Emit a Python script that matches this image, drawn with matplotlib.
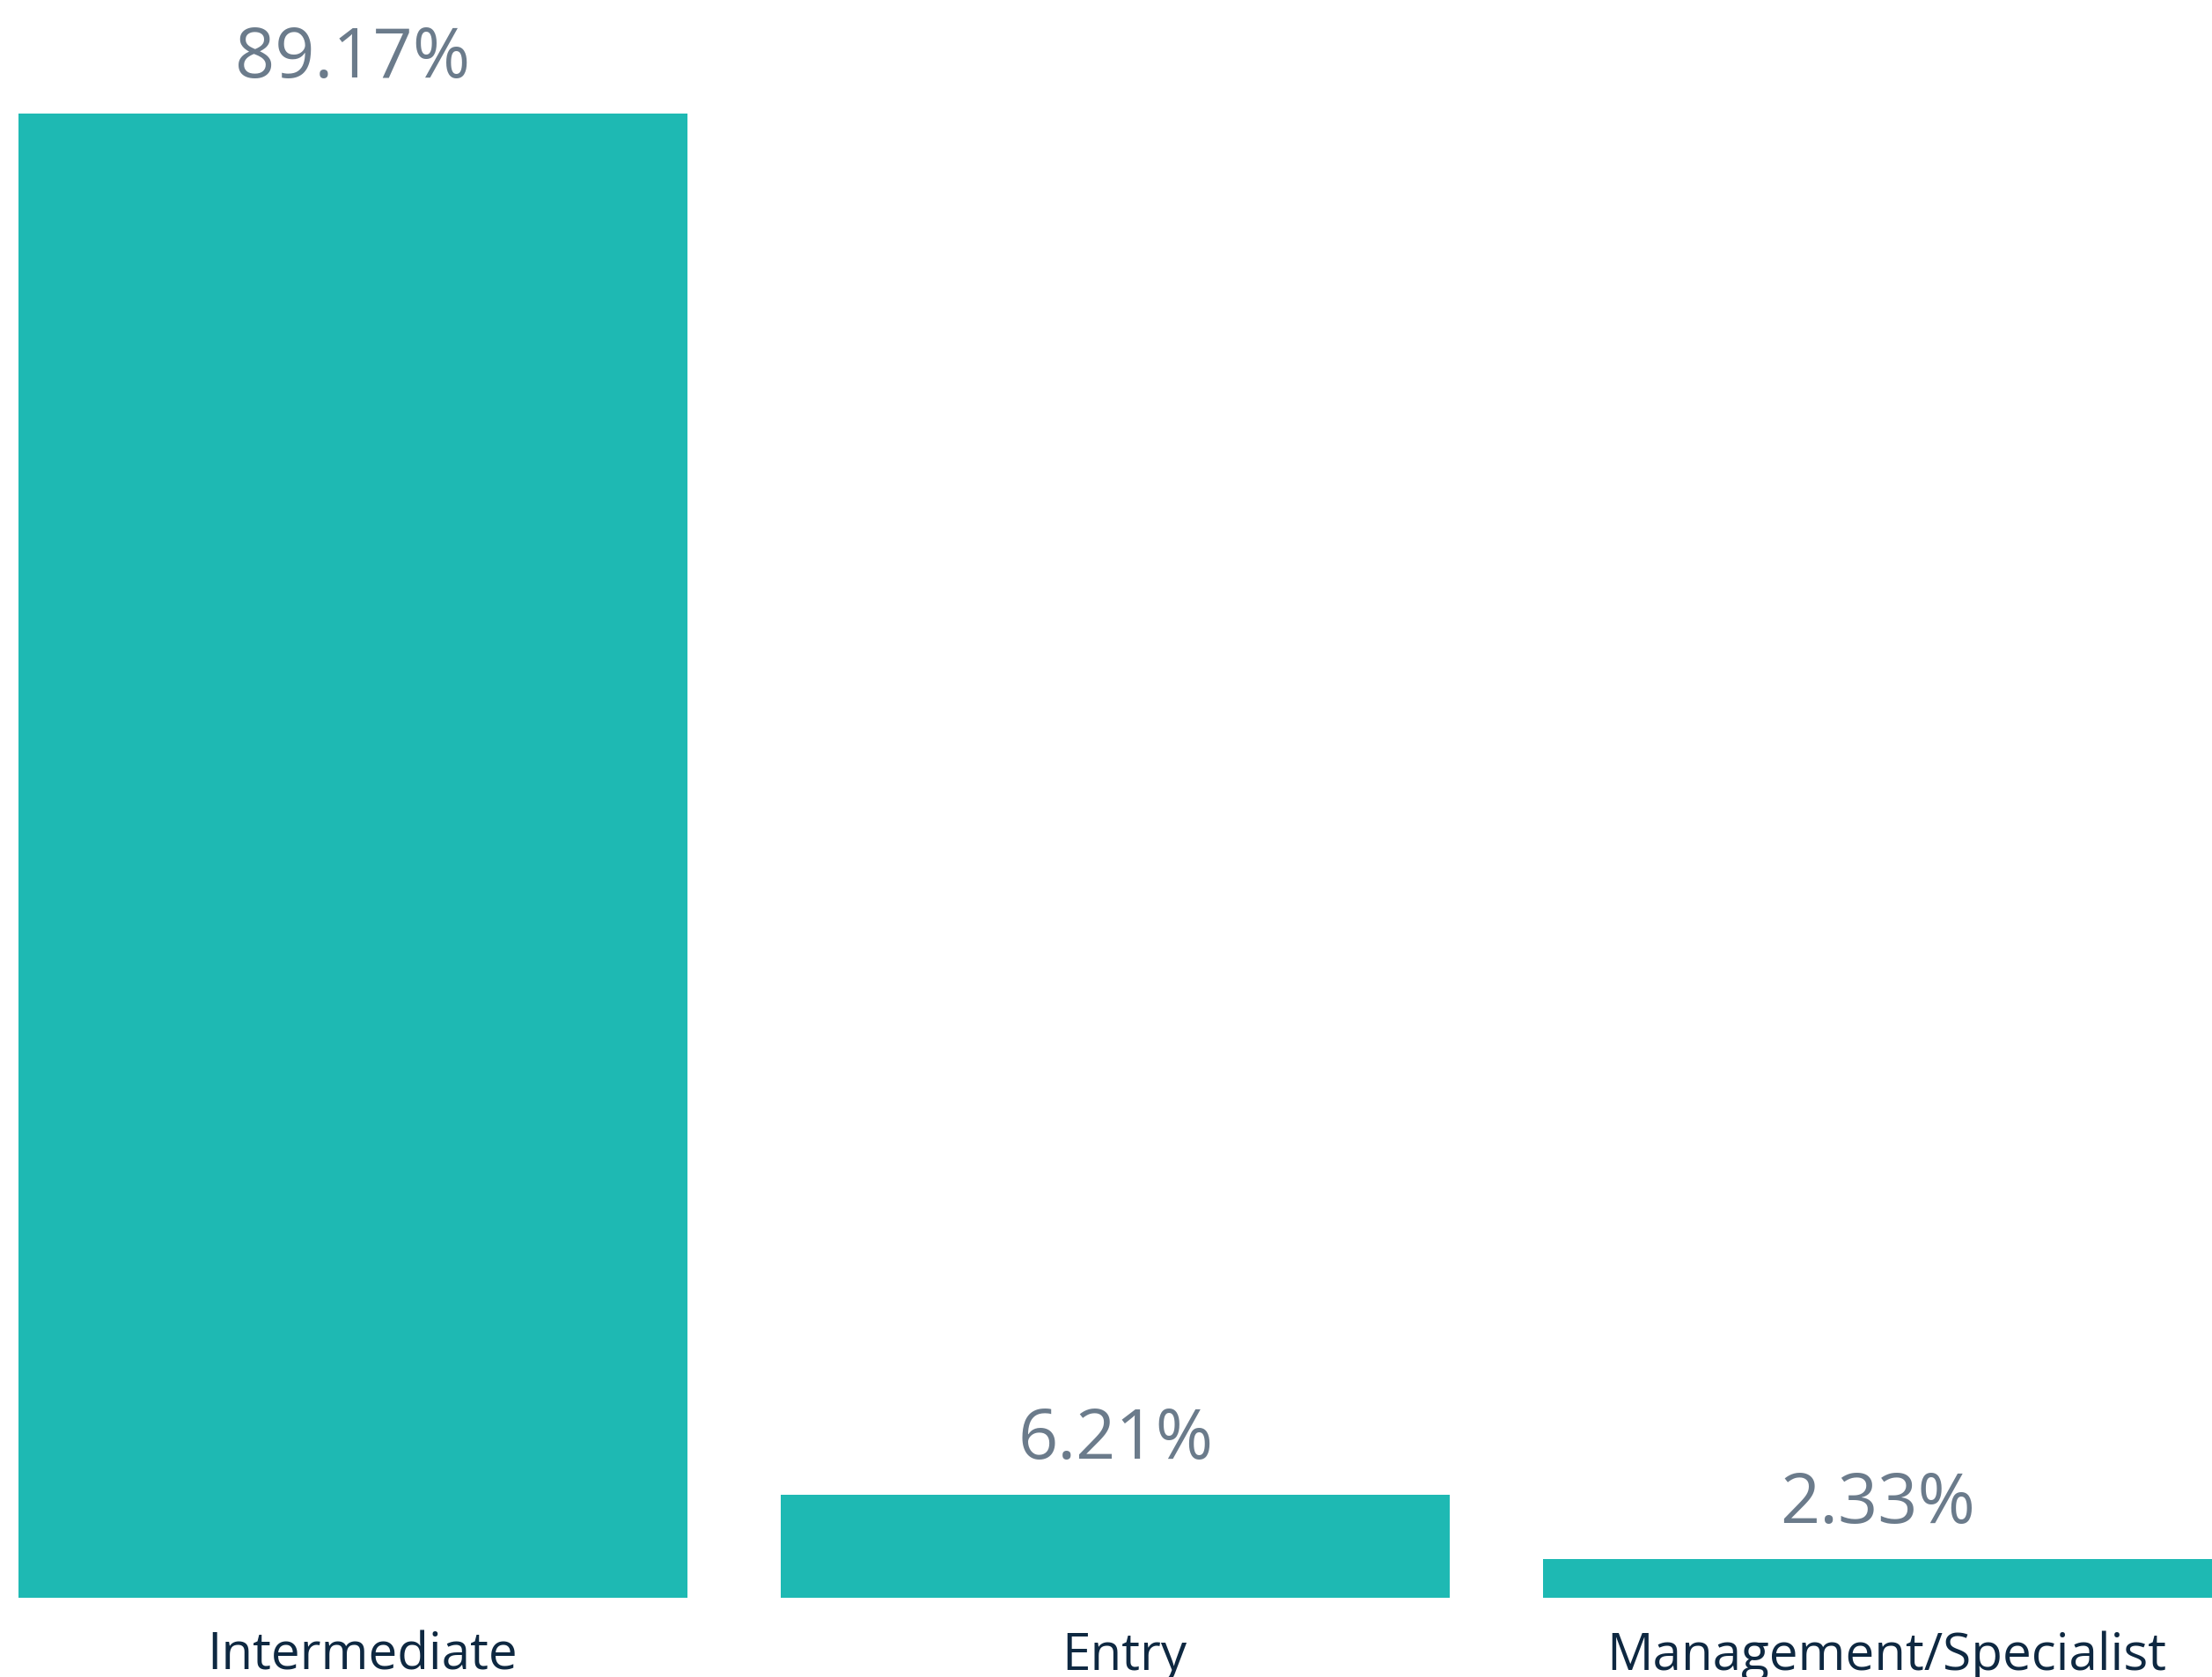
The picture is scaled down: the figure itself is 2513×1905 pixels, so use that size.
import numpy as np
import matplotlib
matplotlib.use('Agg')
import matplotlib.pyplot as plt

categories = ['Intermediate', 'Entry', 'Management/Specialist']
values = [89.17, 6.21, 2.33]
labels = ['89.17%', '6.21%', '2.33%']

bar_color = '#1EB9B3'
value_color = '#6B7B8B'
cat_color = '#0E2841'

plt.rcParams['font.family'] = ['Open Sans', 'DejaVu Sans']

fig = plt.figure(figsize=(25.13, 19.06), dpi=100)
ax = fig.add_axes([0, 0.0472, 1, 0.9528])
x = np.arange(len(categories))
width = 0.877
ax.bar(x, values, width=width, color=bar_color)
ax.set_xlim(-0.463, 2.4385)
ax.set_ylim(0, 96.04)
ax.axis('off')

for xi, v, lab, cat in zip(x, values, labels, categories):
    ax.annotate(lab, (xi, v), xytext=(0, 30), textcoords='offset points',
                ha='center', va='baseline', fontsize=57, color=value_color,
                annotation_clip=False)
    ax.annotate(cat, (xi + 0.012, 0), xytext=(0, -58), textcoords='offset points',
                ha='center', va='baseline', fontsize=42, color=cat_color,
                annotation_clip=False)

fig.savefig('out.png', dpi=100)
